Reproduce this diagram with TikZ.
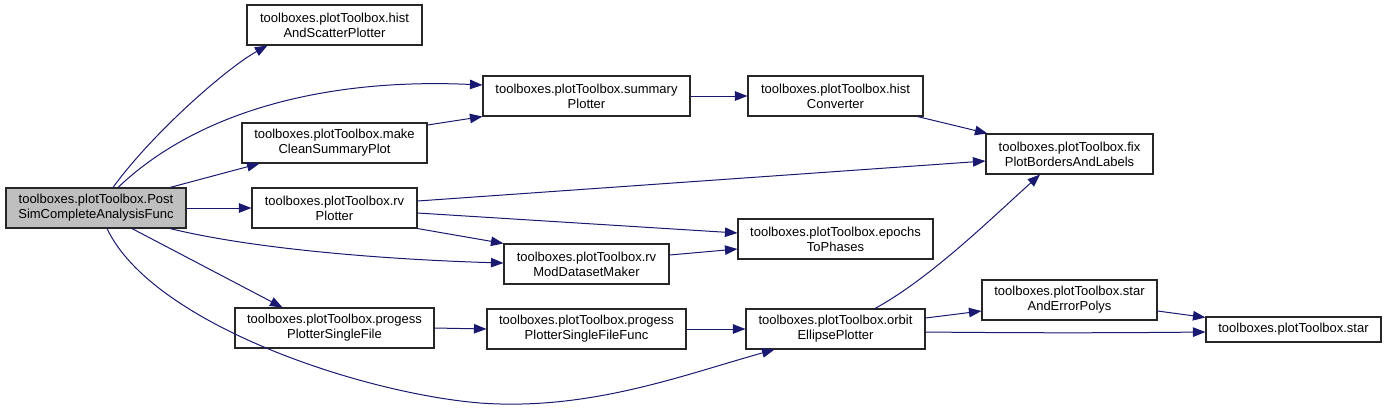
\documentclass[tikz,border=0pt]{standalone}
\usepackage{fontspec}
\setmainfont{Liberation Sans}
\usetikzlibrary{arrows.meta}
\definecolor{edgeblue}{HTML}{191970}
\begin{document}
\begin{tikzpicture}[x=1pt,y=-1pt,
  fn/.style={draw=black!85,line width=1.1pt,rectangle,minimum height=40pt,inner sep=0pt,align=center,
    font=\fontsize{13}{15}\selectfont},
  cur/.style={fn,fill=black!25},
  ed/.style={draw=edgeblue,line width=1pt,-{Triangle[length=12.5pt,width=9.5pt]}}]
\useasboundingbox (0,0) rectangle (1387,408);
\node[cur,minimum width=180pt] (post) at (96,208) {toolboxes.plotToolbox.Post\\SimCompleteAnalysisFunc};
\node[fn,minimum width=175pt] (hist) at (334.5,25) {toolboxes.plotToolbox.hist\\AndScatterPlotter};
\node[fn,minimum width=185pt] (make) at (334.5,143) {toolboxes.plotToolbox.make\\CleanSummaryPlot};
\node[fn,minimum width=165pt] (rv) at (334.5,208) {toolboxes.plotToolbox.rv\\Plotter};
\node[fn,minimum width=199pt] (prog) at (334.5,328) {toolboxes.plotToolbox.progess\\PlotterSingleFile};
\node[fn,minimum width=207pt] (summ) at (586.5,96) {toolboxes.plotToolbox.summary\\Plotter};
\node[fn,minimum width=175pt] (histc) at (835.5,96) {toolboxes.plotToolbox.hist\\Converter};
\node[fn,minimum width=195pt] (epochs) at (835.5,239) {toolboxes.plotToolbox.epochs\\ToPhases};
\node[fn,minimum width=165pt] (rvmod) at (586.5,264) {toolboxes.plotToolbox.rv\\ModDatasetMaker};
\node[fn,minimum width=199pt] (progf) at (586.5,329) {toolboxes.plotToolbox.progess\\PlotterSingleFileFunc};
\node[fn,minimum width=179pt] (orbit) at (835.5,329) {toolboxes.plotToolbox.orbit\\EllipsePlotter};
\node[fn,minimum width=167pt] (fix) at (1069.5,154) {toolboxes.plotToolbox.fix\\PlotBordersAndLabels};
\node[fn,minimum width=175pt] (starE) at (1069.5,300) {toolboxes.plotToolbox.star\\AndErrorPolys};
\node[fn,minimum width=175pt,minimum height=25pt] (star) at (1293.5,329.5) {toolboxes.plotToolbox.star};

% edges
\draw[ed] ([xshift=17pt]post.north) .. controls +(40,-55) and +(-40,22) .. ([xshift=21pt]hist.south west);
\draw[ed] ([xshift=22pt]post.north) .. controls +(82,-78) and +(-153,-7) .. ([yshift=11pt]summ.west);
\draw[ed] ([xshift=74pt]post.north) -- ([xshift=18pt]make.south west);
\draw[ed] (post.east) -- (rv.west);
\draw[ed] ([xshift=74pt]post.south) .. controls +(90,22) and +(-104,-3) .. ([yshift=1pt]rvmod.west);
\draw[ed] ([xshift=36pt]post.south) -- ([xshift=48pt]prog.north west);
\draw[ed] ([xshift=11pt]post.south) .. controls +(45,95) and +(-120,-10) .. (480,403)
   .. controls +(110,8) and +(-90,25) .. ([xshift=29pt]orbit.south west);
\draw[ed] ([yshift=18pt]make.east) -- (summ.south west);
\draw[ed] (summ.east) -- (histc.west);
\draw[ed] ([xshift=-6pt]histc.south east) -- ([xshift=2pt]fix.north west);
\draw[ed] ([yshift=7pt]rv.east) -- ([yshift=-7pt]fix.west);
\draw[ed] ([yshift=-5pt]rv.east) -- ([yshift=6pt]epochs.west);
\draw[ed] (rv.south east) -- (rvmod.north west);
\draw[ed] ([yshift=9pt]rvmod.east) -- ([yshift=-10pt]epochs.west);
\draw[ed] (prog.east) -- (progf.west);
\draw[ed] (progf.east) -- (orbit.west);
\draw[ed] ([xshift=39.5pt]orbit.north) .. controls +(55,-30) and +(-50,45) .. ([xshift=-29.5pt]fix.south);
\draw[ed] ([yshift=11pt]orbit.east) -- ([yshift=-11pt]starE.west);
\draw[ed] ([yshift=-3pt]orbit.east) .. controls +(100,1) and +(-100,1) .. ([yshift=-2.5pt]star.west);
\draw[ed] ([yshift=-11pt]starE.east) -- ([yshift=-1pt]star.north west);
\end{tikzpicture}
\end{document}
